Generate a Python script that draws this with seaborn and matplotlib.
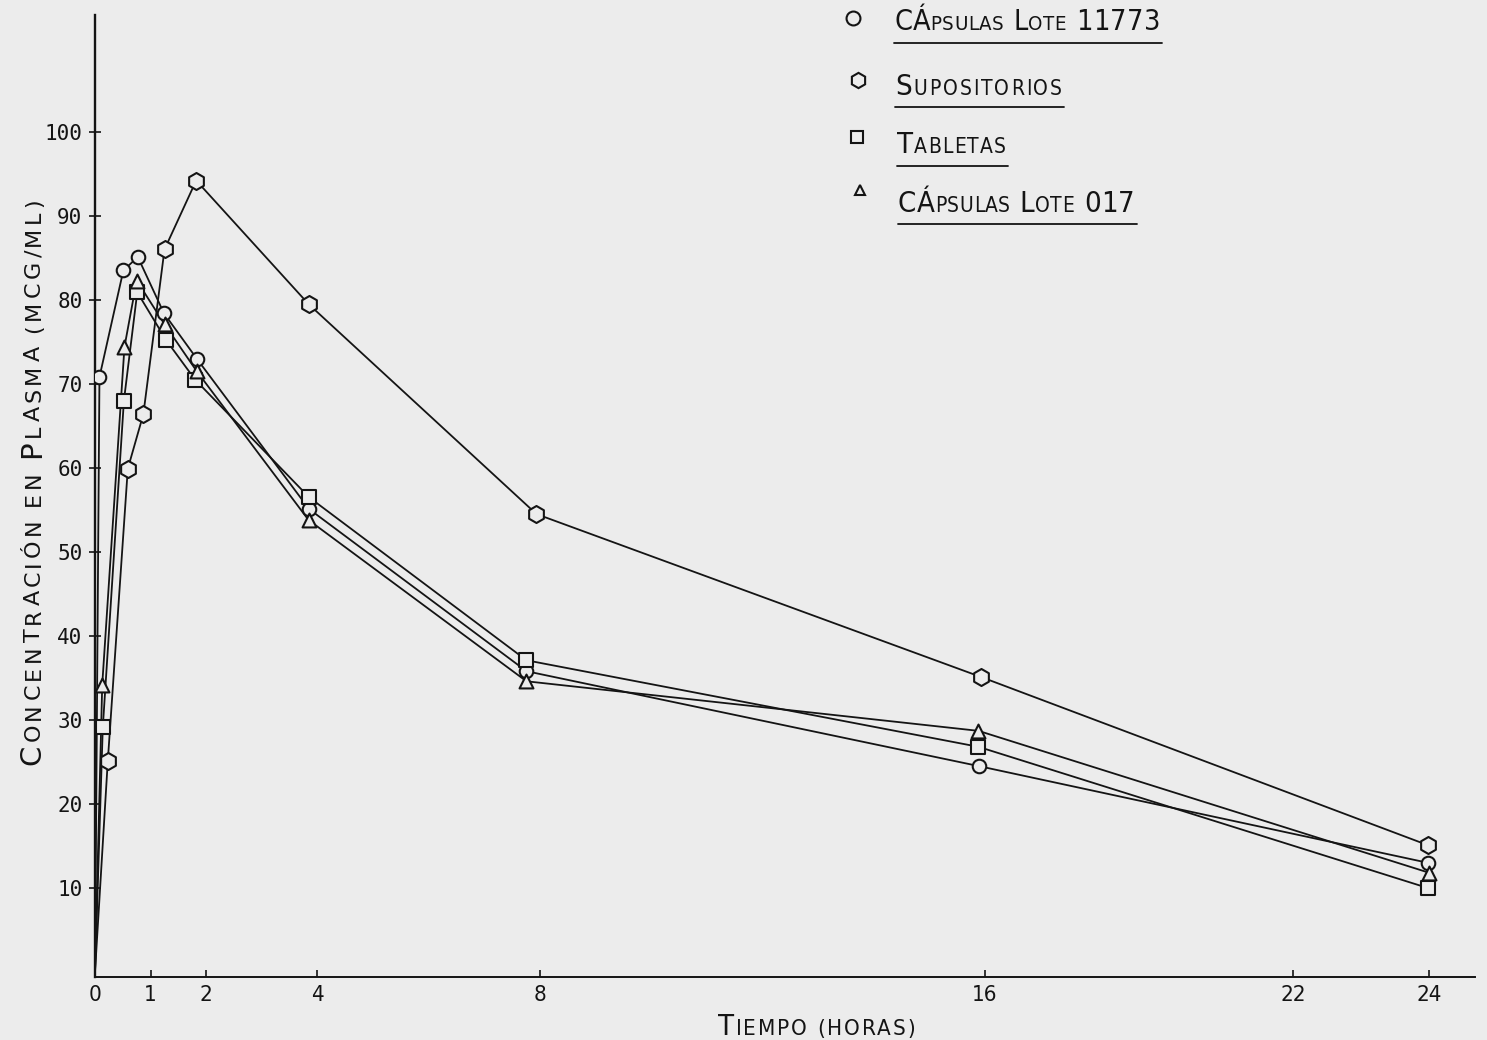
import matplotlib
matplotlib.use("Agg")
import matplotlib.pyplot as plt
from matplotlib.lines import Line2D
from matplotlib.transforms import offset_copy
import pandas as pd
import seaborn as sns

# valores (tiempo en horas, concentracion en mcg/ml)
t_cap11773 = [0, 0.08, 0.51, 0.77, 1.24, 1.83, 3.85, 7.76, 15.90, 23.97]
c_cap11773 = [0, 70.8, 83.5, 85.1, 78.4, 73.0, 55.1, 35.8, 24.5, 13.0]

t_supos = [0, 0.23, 0.59, 0.87, 1.25, 1.82, 3.84, 7.94, 15.94, 23.97]
c_supos = [0, 25.1, 59.9, 66.4, 86.0, 94.2, 79.5, 54.5, 35.1, 15.1]

t_tabl = [0, 0.14, 0.52, 0.76, 1.28, 1.80, 3.85, 7.76, 15.89, 23.97]
c_tabl = [0, 29.1, 68.0, 80.9, 75.2, 70.5, 56.5, 37.1, 26.8, 10.0]

t_cap017 = [0, 0.13, 0.53, 0.75, 1.25, 1.83, 3.84, 7.76, 15.89, 24.00]
c_cap017 = [0, 34.2, 74.4, 82.3, 77.1, 71.5, 53.8, 34.6, 28.7, 11.8]

series = ["CÁpsulas Lote 11773", "Supositorios", "Tabletas", "CÁpsulas Lote 017"]
marker_list = ["o", "h", "s", "^"]
marker_size = [95, 150, 95, 100]

x_ticks = [0, 1, 2, 4, 8, 16, 21.55, 24]
x_ticklabels = ["0", "1", "2", "4", "8", "16", "22", "24"]
y_ticks = [10, 20, 30, 40, 50, 60, 70, 80, 90, 100]

W, H = 1487, 1040
BG = "#ececec"
INK = "#141414"
LETTER = ["Liberation Sans Narrow", "DejaVu Sans"]

# tabla larga para seaborn
frames = []
for name, t, c in zip(series,
                      [t_cap11773, t_supos, t_tabl, t_cap017],
                      [c_cap11773, c_supos, c_tabl, c_cap017]):
    frames.append(pd.DataFrame({"tiempo": t, "conc": c, "serie": name}))
df = pd.concat(frames, ignore_index=True)

sns.set_style("ticks")
plt.rcParams["font.family"] = LETTER

fig = plt.figure(figsize=(W / 100, H / 100), dpi=100, facecolor=BG)
ax = fig.add_axes([95 / W, 1 - 976.7 / H, (1475 - 95) / W, (976.7 - 15) / H])
ax.set_facecolor(BG)

sns.lineplot(data=df, x="tiempo", y="conc", hue="serie", palette=[INK] * 4,
             sort=False, lw=1.3, legend=False, ax=ax)
for name, mk, ms in zip(series, marker_list, marker_size):
    pts = df[(df["serie"] == name) & (df["tiempo"] > 0)]
    sns.scatterplot(data=pts, x="tiempo", y="conc", marker=mk, s=ms,
                    facecolor=BG, edgecolor=INK, linewidth=1.5, legend=False,
                    ax=ax, zorder=3)

ax.set_xlim(0, 24.82)
ax.set_ylim(-0.56, 113.9)
ax.set_xlabel("")
ax.set_ylabel("")
sns.despine(ax=ax)
ax.spines["left"].set_linewidth(1.7)
ax.spines["bottom"].set_linewidth(1.4)
ax.spines["left"].set_color(INK)
ax.spines["bottom"].set_color(INK)

ax.set_xticks(x_ticks)
ax.set_xticklabels(x_ticklabels, family=LETTER, fontsize=16, color=INK,
                   fontstretch="condensed")
ax.set_yticks(y_ticks)
ax.set_yticklabels([str(v) for v in y_ticks], family="DejaVu Sans Mono",
                   fontsize=15, color=INK)
ax.tick_params(axis="x", direction="in", length=5, width=1.2, pad=6, colors=INK)
ax.tick_params(axis="y", direction="inout", length=8, width=1.2, pad=5, colors=INK)


def px(x, y):
    return x / W, 1 - y / H


def char_size(ch, big, small):
    return small if (ch.islower() or ch in "()/") else big


def lettering(x, y, text, big, small, length, rotation=0, stretch="condensed"):
    # rotulado en versalitas, repartido a lo largo de 'length' pixeles
    renderer = fig.canvas.get_renderer()
    glyphs = [ch for ch in text if ch != " "]

    def widths(scale):
        out = []
        for ch in glyphs:
            t = fig.text(0, 0, ch.upper(), fontsize=char_size(ch, big, small) * scale,
                         family=LETTER, fontstretch=stretch)
            out.append(t.get_window_extent(renderer).width)
            t.remove()
        return out

    n_space = text.count(" ")
    gaps = len(glyphs) - 1
    scale = 1.0
    w = widths(scale)
    space = 0.32 * big * 100 / 72
    track = (length - sum(w) - n_space * space) / gaps
    if track < 0.5:
        scale = (length - 0.5 * gaps) / (sum(w) + n_space * space)
        w = widths(scale)
        space *= scale
        track = (length - sum(w) - n_space * space) / gaps

    fx, fy = px(x, y)
    pos = 0.0
    i = 0
    for ch in text:
        if ch == " ":
            pos += space
            continue
        dx, dy = (pos, 0) if rotation == 0 else (0, pos)
        tr = offset_copy(fig.transFigure, fig=fig, x=dx, y=dy, units="dots")
        fig.text(fx, fy, ch.upper(), fontsize=char_size(ch, big, small) * scale,
                 family=LETTER, fontstretch=stretch, rotation=rotation,
                 rotation_mode="anchor", ha="left", va="baseline",
                 transform=tr, color=INK)
        pos += w[i] + track
        i += 1


# leyenda rotulada a mano
legend_rows = [
    (series[0], "o", 10, 853, 18, 894, 30, 266, 894, 1162, 42.7),
    (series[1], "h", 11, 858, 80, 895, 95, 167, 895, 1064, 106.7),
    (series[2], "s", 8.5, 857, 137, 897, 153, 109, 897, 1008, 165.7),
    (series[3], "^", 7.5, 860, 190, 898, 212, 237, 898, 1137, 224),
]
for name, mk, ms, mx, my, tx, ty, tl, ux0, ux1, uy in legend_rows:
    fig.add_artist(Line2D([mx / W], [1 - my / H], transform=fig.transFigure,
                          marker=mk, ms=ms, mfc=BG, mec=INK, mew=1.5, ls="none"))
    lettering(tx, ty, name, 21, 15, tl)
    fig.add_artist(Line2D([ux0 / W, ux1 / W], [1 - uy / H, 1 - uy / H],
                          transform=fig.transFigure, color=INK, lw=1.3))

# titulos de ejes
lettering(718, 1035, "Tiempo (horas)", 21, 16, 197)
lettering(40, 765, "Concentración en Plasma (mcg/ml)", 21, 16, 567,
          rotation=90, stretch="normal")

fig.savefig("out.png", dpi=100, facecolor=BG)
